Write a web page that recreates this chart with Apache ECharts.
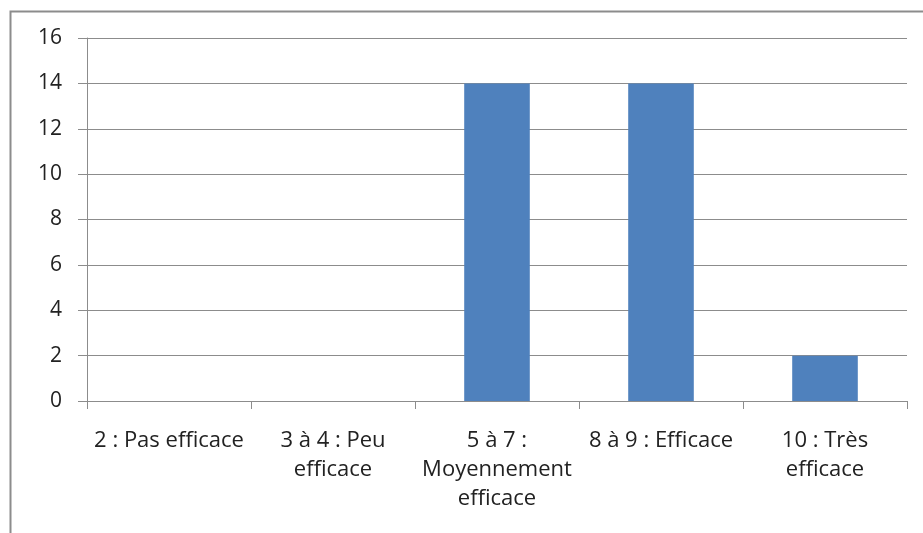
<!DOCTYPE html>
<html>
<head>
<meta charset="utf-8">
<script src="https://cdn.jsdelivr.net/npm/echarts@6/dist/echarts.min.js"></script>
<style>
    html, body { margin: 0; padding: 0; background: #fff; }
    #chart { width: 923px; height: 533px; }
</style>
</head>
<body>
<div id="chart"></div>
<script>
// catégories de l'axe X
const categories = ['2 : Pas efficace', '3 à 4 : Peu\nefficace', '5 à 7 :\nMoyennement\nefficace', '8 à 9 : Efficace', '10 : Très\nefficace'];
// valeurs des barres
const values = [0, 0, 14, 14, 2];
const yMin = 0;
const yMax = 16;
const yStep = 2;

const myChart = echarts.init(document.getElementById('chart'));
const font = '"Open Sans", "Liberation Sans", sans-serif';

const options = {
    animation: false,
    // cadre gris autour du graphique
    graphic: [{
        type: 'rect',
        left: 8,
        top: 9,
        shape: { width: 940, height: 560 },
        style: { fill: 'none', stroke: '#8c8c8c', lineWidth: 2 },
        silent: true,
    }],
    grid: {
        left: 87,
        right: 16,
        top: 38,
        bottom: 132,
        containLabel: false,
    },
    xAxis: {
        type: 'category',
        data: categories,
        axisLine: { lineStyle: { color: '#8c8c8c', width: 1 } },
        axisTick: { show: true, length: 8, alignWithLabel: false, lineStyle: { color: '#8c8c8c' } },
        axisLabel: {
            interval: 0,
            margin: 25,
            color: '#222',
            fontSize: 22,
            lineHeight: 29,
            fontFamily: font,
            align: 'center',
        },
    },
    yAxis: {
        type: 'value',
        min: yMin,
        max: yMax,
        interval: yStep,
        axisLine: { show: true, lineStyle: { color: '#8c8c8c', width: 1 } },
        axisTick: { show: true, length: 9, lineStyle: { color: '#8c8c8c' } },
        axisLabel: {
            margin: 25,
            color: '#222',
            fontSize: 21,
            fontFamily: font,
        },
        splitLine: { lineStyle: { color: '#8c8c8c', width: 1 } },
    },
    series: [{
        type: 'bar',
        data: values,
        barWidth: '40%',
        itemStyle: { color: '#4f81bd' },
    }],
};

myChart.setOption(options);
</script>
</body>
</html>
